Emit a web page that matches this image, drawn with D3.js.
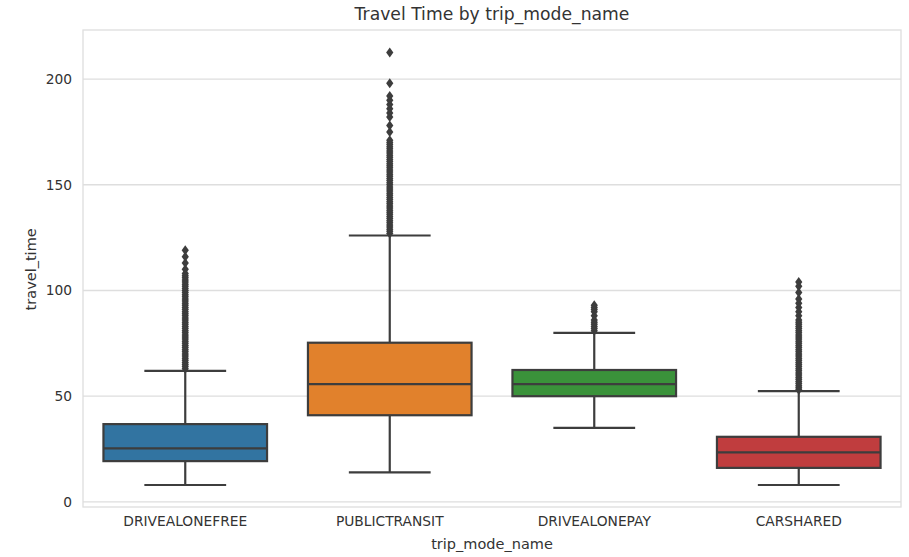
<!DOCTYPE html>
<html>
<head>
<meta charset="utf-8">
<script src="https://cdn.jsdelivr.net/npm/d3@7"></script>
<style>
  body { margin: 0; background: #fff; }
  svg text { font-family: "DejaVu Sans", sans-serif; fill: #333; }
</style>
</head>
<body>
<svg id="chart" width="909" height="557"></svg>
<script>
const categories = ["DRIVEALONEFREE", "PUBLICTRANSIT", "DRIVEALONEPAY", "CARSHARED"];
const colors = ["#3274a1", "#e1812c", "#3a923a", "#c03d3e"];
const lowWhisker = [8, 14, 35, 8];
const q1 = [19.3, 41, 50, 16.1];
const median = [25.3, 55.7, 55.7, 23.4];
const q3 = [36.8, 75.3, 62.4, 30.8];
const highWhisker = [62, 126, 80, 52.4];
const yTicks = [0, 50, 100, 150, 200];

// outliers (values overlap heavily at this scale)
const outliersDAF = [63, 64, 65, 66, 67, 68, 69, 70, 71, 72, 73, 74, 75, 76, 77, 78, 79, 80,
  81, 82, 83, 84, 85, 86, 87, 88, 89, 90, 91, 92, 93, 94, 95, 96, 97, 98, 99, 100,
  101, 102, 103, 104, 105, 106, 107, 108, 110, 113, 116, 119];
const outliersPT = [127, 128, 129, 130, 131, 132, 133, 134, 135, 136, 137, 138, 139, 140,
  141, 142, 143, 144, 145, 146, 147, 148, 149, 150, 151, 152, 153, 154, 155, 156, 157,
  158, 159, 160, 161, 162, 163, 164, 165, 166, 167, 168, 169, 170, 171,
  175, 178, 182, 184, 186, 188, 190, 192, 198, 212.5];
const outliersDAP = [81, 82, 83, 84, 85, 86, 88, 90, 91, 92, 93];
const outliersCS = [53, 54, 55, 56, 57, 58, 59, 60, 61, 62, 63, 64, 65, 66, 67, 68, 69, 70,
  71, 72, 73, 74, 75, 76, 77, 78, 79, 80, 81, 82, 83, 84, 85, 86,
  88, 90, 92, 94, 96, 99, 102, 104];
const outliers = [outliersDAF, outliersPT, outliersDAP, outliersCS];

const svg = d3.select("#chart");
const margin = { top: 30, right: 8, bottom: 50, left: 83 };
const width = 909 - margin.left - margin.right;
const height = 557 - margin.top - margin.bottom;
const lineColor = "#3d3d3d";
const gridColor = "#dedede";

const g = svg.append("g")
    .attr("transform", `translate(${margin.left},${margin.top})`);

const x = d3.scaleBand().domain(categories).range([0, width]).paddingInner(0).paddingOuter(0);
const y = d3.scaleLinear().domain([-2.4, 223.2]).range([height, 0]);

// grid
g.append("g")
    .selectAll("line")
    .data(yTicks)
    .join("line")
    .attr("x1", 0)
    .attr("x2", width)
    .attr("y1", d => y(d))
    .attr("y2", d => y(d))
    .style("stroke", gridColor)
    .style("stroke-width", 1.3);

// frame
g.append("rect")
    .attr("width", width)
    .attr("height", height)
    .style("fill", "none")
    .style("stroke", gridColor)
    .style("stroke-width", 1.3);

// axes
const yAxis = g.append("g")
    .call(d3.axisLeft(y).tickValues(yTicks).tickSize(0).tickPadding(11));
const xAxis = g.append("g")
    .attr("transform", `translate(0,${height})`)
    .call(d3.axisBottom(x).tickSize(0).tickPadding(9));
[yAxis, xAxis].forEach(a => {
    a.select(".domain").remove();
    a.selectAll("text").style("font-size", "13.8px").style("fill", "#333");
});

// boxes
const boxWidth = x.bandwidth() * 0.8;
const capWidth = boxWidth / 2;
const boxes = g.append("g")
    .selectAll("g")
    .data(categories)
    .join("g")
    .attr("transform", d => `translate(${x(d) + x.bandwidth() / 2},0)`);

boxes.append("line")
    .attr("y1", (d, i) => y(lowWhisker[i]))
    .attr("y2", (d, i) => y(q1[i]))
    .style("stroke", lineColor).style("stroke-width", 2.2);
boxes.append("line")
    .attr("y1", (d, i) => y(q3[i]))
    .attr("y2", (d, i) => y(highWhisker[i]))
    .style("stroke", lineColor).style("stroke-width", 2.2);
boxes.each(function(d, i) {
    const b = d3.select(this);
    [lowWhisker[i], highWhisker[i]].forEach(v => {
        b.append("line")
            .attr("x1", -capWidth / 2)
            .attr("x2", capWidth / 2)
            .attr("y1", y(v))
            .attr("y2", y(v))
            .style("stroke", lineColor).style("stroke-width", 2.2);
    });
});
boxes.append("rect")
    .attr("x", -boxWidth / 2)
    .attr("width", boxWidth)
    .attr("y", (d, i) => y(q3[i]))
    .attr("height", (d, i) => y(q1[i]) - y(q3[i]))
    .style("fill", (d, i) => colors[i])
    .style("stroke", lineColor)
    .style("stroke-width", 2.2);
boxes.append("line")
    .attr("x1", -boxWidth / 2)
    .attr("x2", boxWidth / 2)
    .attr("y1", (d, i) => y(median[i]))
    .attr("y2", (d, i) => y(median[i]))
    .style("stroke", lineColor).style("stroke-width", 2.2);

// fliers
const diamond = "M0,-5L3.6,0L0,5L-3.6,0Z";
boxes.each(function(d, i) {
    d3.select(this).selectAll("path.flier")
        .data(outliers[i])
        .join("path")
        .attr("class", "flier")
        .attr("d", diamond)
        .attr("transform", v => `translate(0,${y(v)})`)
        .style("fill", lineColor);
});

// labels
svg.append("text")
    .attr("x", margin.left + width / 2)
    .attr("y", 20)
    .attr("text-anchor", "middle")
    .style("font-size", "17.2px")
    .text("Travel Time by trip_mode_name");

svg.append("text")
    .attr("x", margin.left + width / 2)
    .attr("y", 549)
    .attr("text-anchor", "middle")
    .style("font-size", "14.5px")
    .text("trip_mode_name");

svg.append("text")
    .attr("transform", `translate(36,${margin.top + y(110)}) rotate(-90)`)
    .attr("text-anchor", "middle")
    .style("font-size", "14.5px")
    .text("travel_time");
</script>
</body>
</html>
